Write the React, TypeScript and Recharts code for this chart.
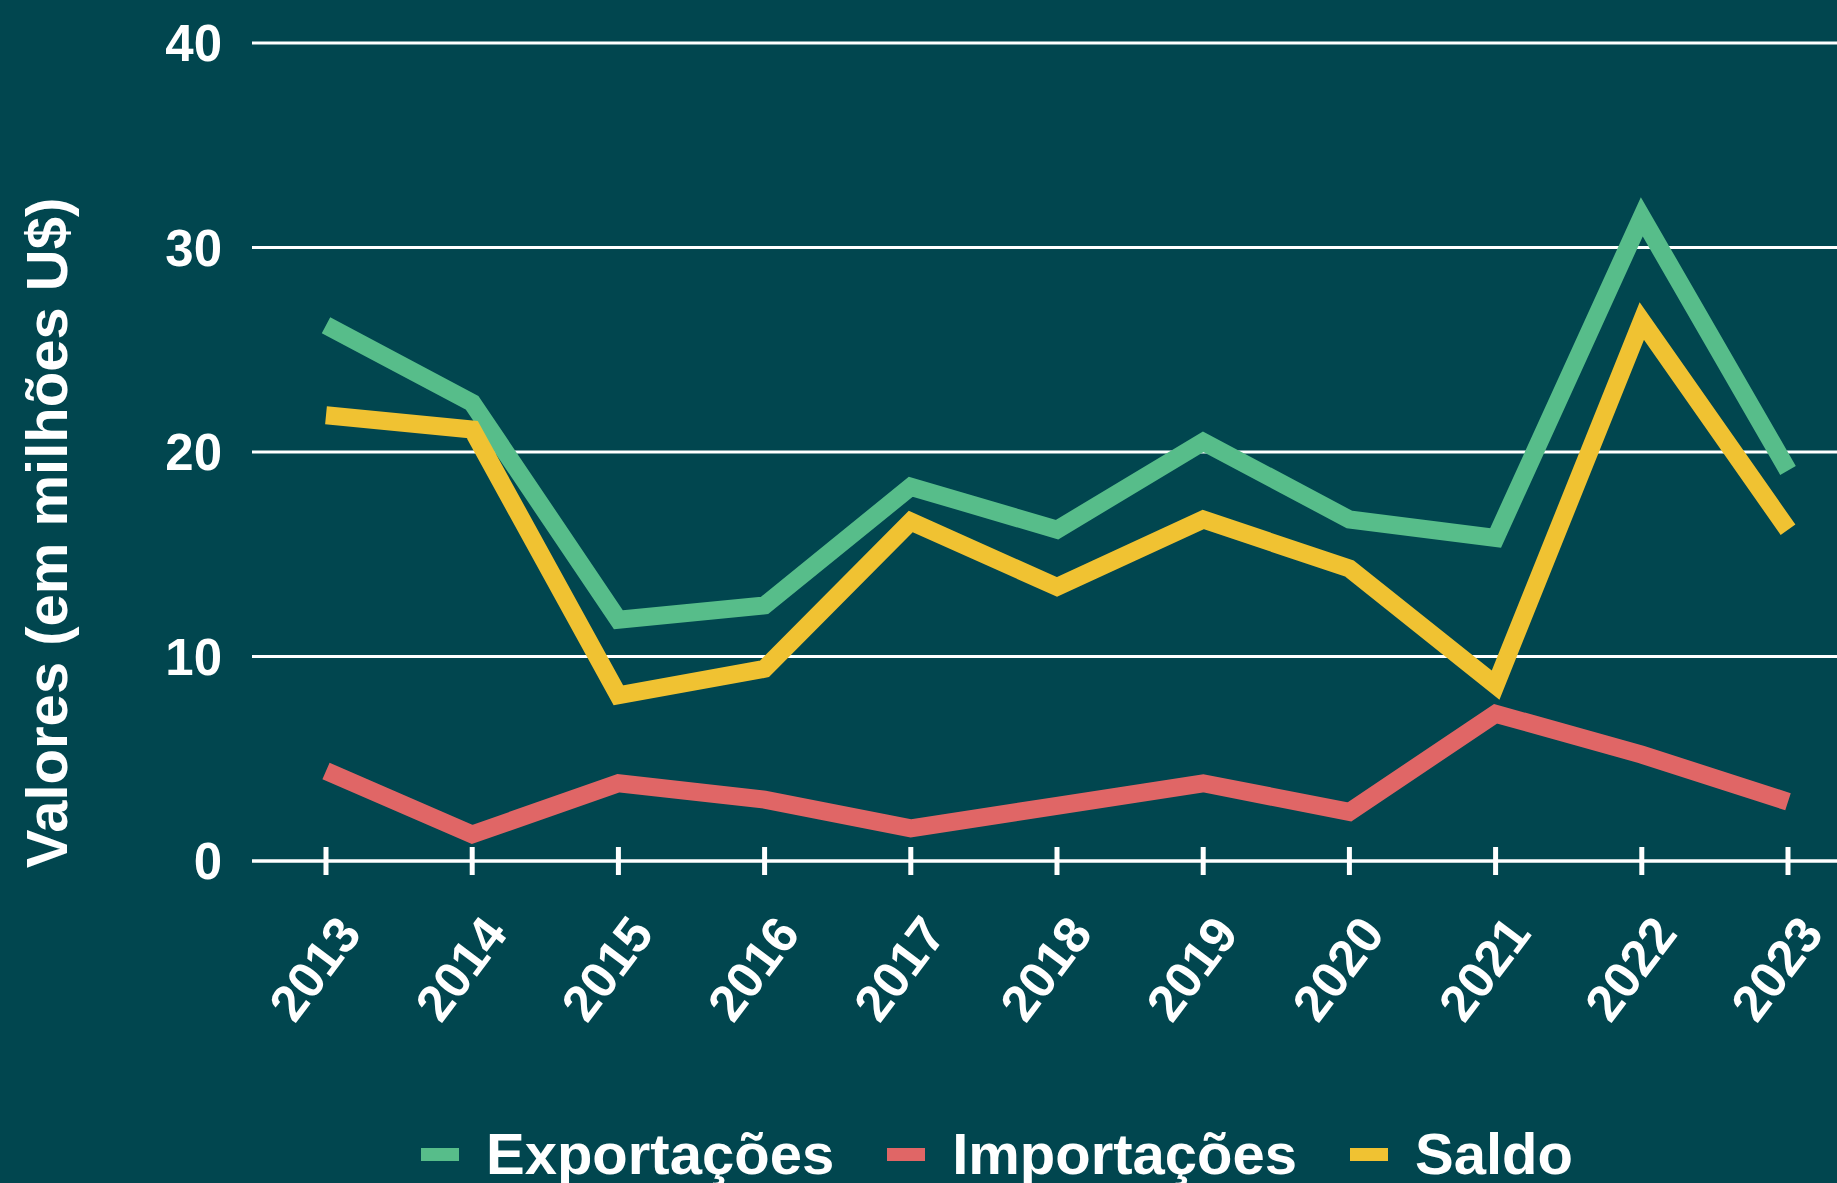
import { CartesianGrid, Label, Legend, Line, LineChart, XAxis, YAxis } from "recharts";

const years = ["2013", "2014", "2015", "2016", "2017", "2018", "2019", "2020", "2021", "2022", "2023"];
const exportacoes = [26.2, 22.4, 11.8, 12.5, 18.3, 16.2, 20.5, 16.7, 15.8, 31.5, 19.1];
const importacoes = [4.4, 1.3, 3.8, 3.0, 1.6, 2.7, 3.8, 2.4, 7.2, 5.2, 2.9];
const saldo = [21.8, 21.1, 8.1, 9.4, 16.6, 13.4, 16.7, 14.3, 8.6, 26.4, 16.2];
const yTicks = [0, 10, 20, 30, 40];

const BG = "#01464f";
const FONT = "'Liberation Sans', Arial, sans-serif";

const series = [
  { key: "exportacoes", name: "Exportações", color: "#57bd8a" },
  { key: "importacoes", name: "Importações", color: "#e06666" },
  { key: "saldo", name: "Saldo", color: "#f0c232" },
];

const data = years.map((year, i) => ({
  year,
  exportacoes: exportacoes[i],
  importacoes: importacoes[i],
  saldo: saldo[i],
}));

function YearTick({ x, y, payload }: any) {
  return (
    <g>
      <line x1={x} x2={x} y1={y - 14} y2={y + 14} stroke="#fff" strokeWidth={5} />
      <text
        transform={`translate(${x + 37},${y + 73}) rotate(-53)`}
        textAnchor="end"
        fill="#fff"
        fontSize={51}
        fontWeight="bold"
        fontFamily={FONT}
      >
        {payload.value}
      </text>
    </g>
  );
}

function LegendBox() {
  return (
    <div
      style={{
        height: 100,
        boxSizing: "border-box",
        paddingTop: 42,
        paddingLeft: 421,
        display: "flex",
        alignItems: "center",
        fontFamily: FONT,
        fontWeight: "bold",
        fontSize: 58,
        lineHeight: 1,
        color: "#fff",
        whiteSpace: "nowrap",
      }}
    >
      {series.map((s) => (
        <div key={s.key} style={{ display: "flex", alignItems: "center", marginRight: 53 }}>
          <span style={{ width: 38, height: 13, background: s.color, marginRight: 27 }} />
          <span>{s.name}</span>
        </div>
      ))}
    </div>
  );
}

export default function App() {
  return (
    <div style={{ position: "absolute", left: 0, top: 0, width: 1837, height: 1183, background: BG, overflow: "hidden" }}>
      <LineChart
        width={1837}
        height={1183}
        data={data}
        margin={{ top: 43, right: 0, left: 0, bottom: 0 }}
        style={{ background: BG }}
      >
        <CartesianGrid vertical={false} stroke="#fff" strokeWidth={3} />
        <XAxis
          dataKey="year"
          height={222}
          padding={{ left: 74, right: 49 }}
          axisLine={{ stroke: "#fff", strokeWidth: 3 }}
          tickLine={false}
          tickSize={0}
          tickMargin={0}
          interval={0}
          tick={<YearTick />}
        />
        <YAxis
          width={252}
          domain={[0, 40]}
          ticks={yTicks}
          axisLine={false}
          tickLine={false}
          tickSize={0}
          tickMargin={30}
          tick={{ fill: "#fff", fontSize: 51, fontWeight: "bold", fontFamily: FONT }}
        >
          <Label
            content={() => (
              <text
                transform="translate(67,533) rotate(-90)"
                textAnchor="middle"
                fill="#fff"
                fontSize={58}
                fontWeight="bold"
                fontFamily={FONT}
              >
                Valores (em milhões U$)
              </text>
            )}
          />
        </YAxis>
        <Legend
          verticalAlign="bottom"
          content={<LegendBox />}
          wrapperStyle={{ left: 0, bottom: 0, width: 1837 }}
        />
        {series.map((s) => (
          <Line
            key={s.key}
            dataKey={s.key}
            name={s.name}
            stroke={s.color}
            strokeWidth={18}
            dot={false}
            activeDot={false}
            type="linear"
            isAnimationActive={false}
          />
        ))}
      </LineChart>
    </div>
  );
}
